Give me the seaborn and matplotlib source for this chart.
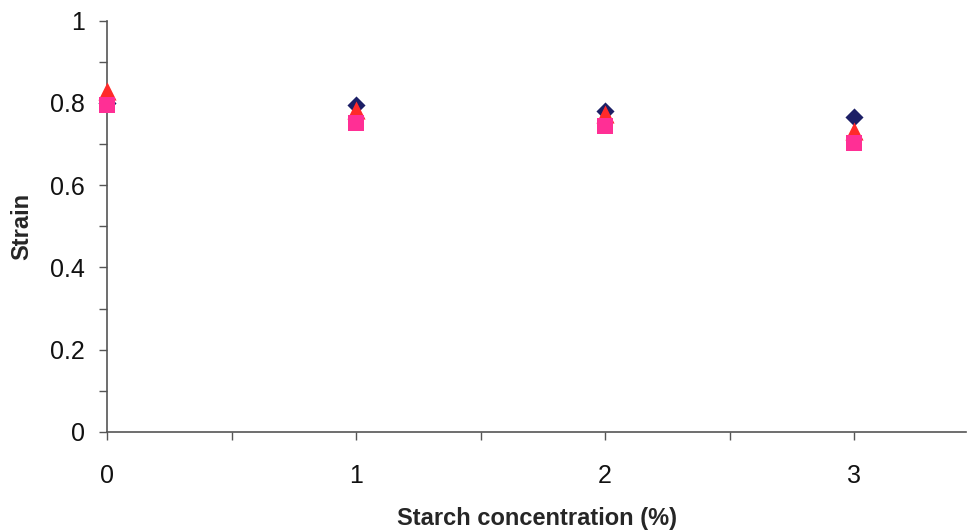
import matplotlib
matplotlib.use("Agg")
import matplotlib.pyplot as plt
import seaborn as sns
import pandas as pd
from matplotlib.ticker import MultipleLocator

concentration = [0, 1, 2, 3]
series_a = [0.800, 0.795, 0.781, 0.766]   # navy diamonds
series_b = [0.828, 0.783, 0.772, 0.732]   # red triangles
series_c = [0.795, 0.752, 0.744, 0.702]   # pink squares
y_ticks = [0, 0.2, 0.4, 0.6, 0.8, 1]
y_tick_labels = ["0", "0.2", "0.4", "0.6", "0.8", "1"]
x_ticks = [0, 1, 2, 3]
x_tick_labels = ["0", "1", "2", "3"]

sns.set_style("ticks")
plt.rcParams["font.family"] = ["Liberation Sans", "DejaVu Sans"]

fig = plt.figure(figsize=(9.73, 5.30), dpi=100)
ax = fig.add_axes([0.110, 0.185, 0.883, 0.776])

df_a = pd.DataFrame({"x": concentration, "y": series_a})
df_b = pd.DataFrame({"x": concentration, "y": series_b})
df_c = pd.DataFrame({"x": concentration, "y": series_c})

sns.scatterplot(data=df_a, x="x", y="y", ax=ax, marker="D", s=85,
                color="#1c1f66", edgecolor="#1c1f66", linewidth=0, clip_on=False, zorder=3)
sns.scatterplot(data=df_b, x="x", y="y", ax=ax, marker="^", s=170,
                color="#ff2a2a", edgecolor="#ff2a2a", linewidth=0, clip_on=False, zorder=4)
sns.scatterplot(data=df_c, x="x", y="y", ax=ax, marker="s", s=120,
                color="#ff2f95", edgecolor="#ff2f95", linewidth=0, clip_on=False, zorder=5)

ax.set_xlim(0, 3.45)
ax.set_ylim(0, 1)
ax.set_xticks(x_ticks)
ax.set_xticklabels(x_tick_labels)
ax.set_yticks(y_ticks)
ax.set_yticklabels(y_tick_labels)
ax.xaxis.set_minor_locator(MultipleLocator(0.5))
ax.yaxis.set_minor_locator(MultipleLocator(0.1))

for s in ["top", "right"]:
    ax.spines[s].set_visible(False)
for s in ["left", "bottom"]:
    ax.spines[s].set_color("#555555")
    ax.spines[s].set_linewidth(1.2)

ax.tick_params(axis="both", which="both", direction="out", length=6, width=1,
               color="#555555", labelsize=18, labelcolor="#111111")
ax.tick_params(axis="x", which="major", pad=17)
ax.tick_params(axis="y", which="major", pad=10)

ax.set_xlabel("Starch concentration (%)", fontsize=17, fontweight="bold", labelpad=14)
ax.set_ylabel("Strain", fontsize=17, fontweight="bold", labelpad=12)

fig.savefig("out.png", dpi=100)
